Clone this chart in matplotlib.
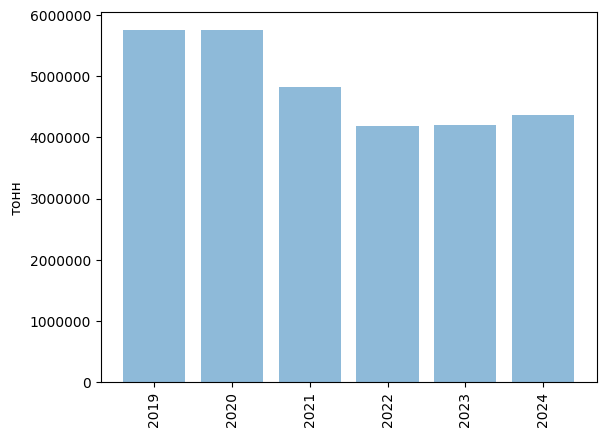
import matplotlib
matplotlib.use('Agg')
import matplotlib.pyplot as plt

# годы и объемы (тонн)
years = ['2019', '2020', '2021', '2022', '2023', '2024']
values = [5756000, 5756000, 4825000, 4188000, 4204000, 4368000]

fig, ax = plt.subplots()
ax.bar(years, values, alpha=0.5)
ax.set_ylabel('тонн')
ax.ticklabel_format(axis='y', style='plain')
plt.xticks(rotation=90)
plt.savefig('out.png', bbox_inches='tight')
